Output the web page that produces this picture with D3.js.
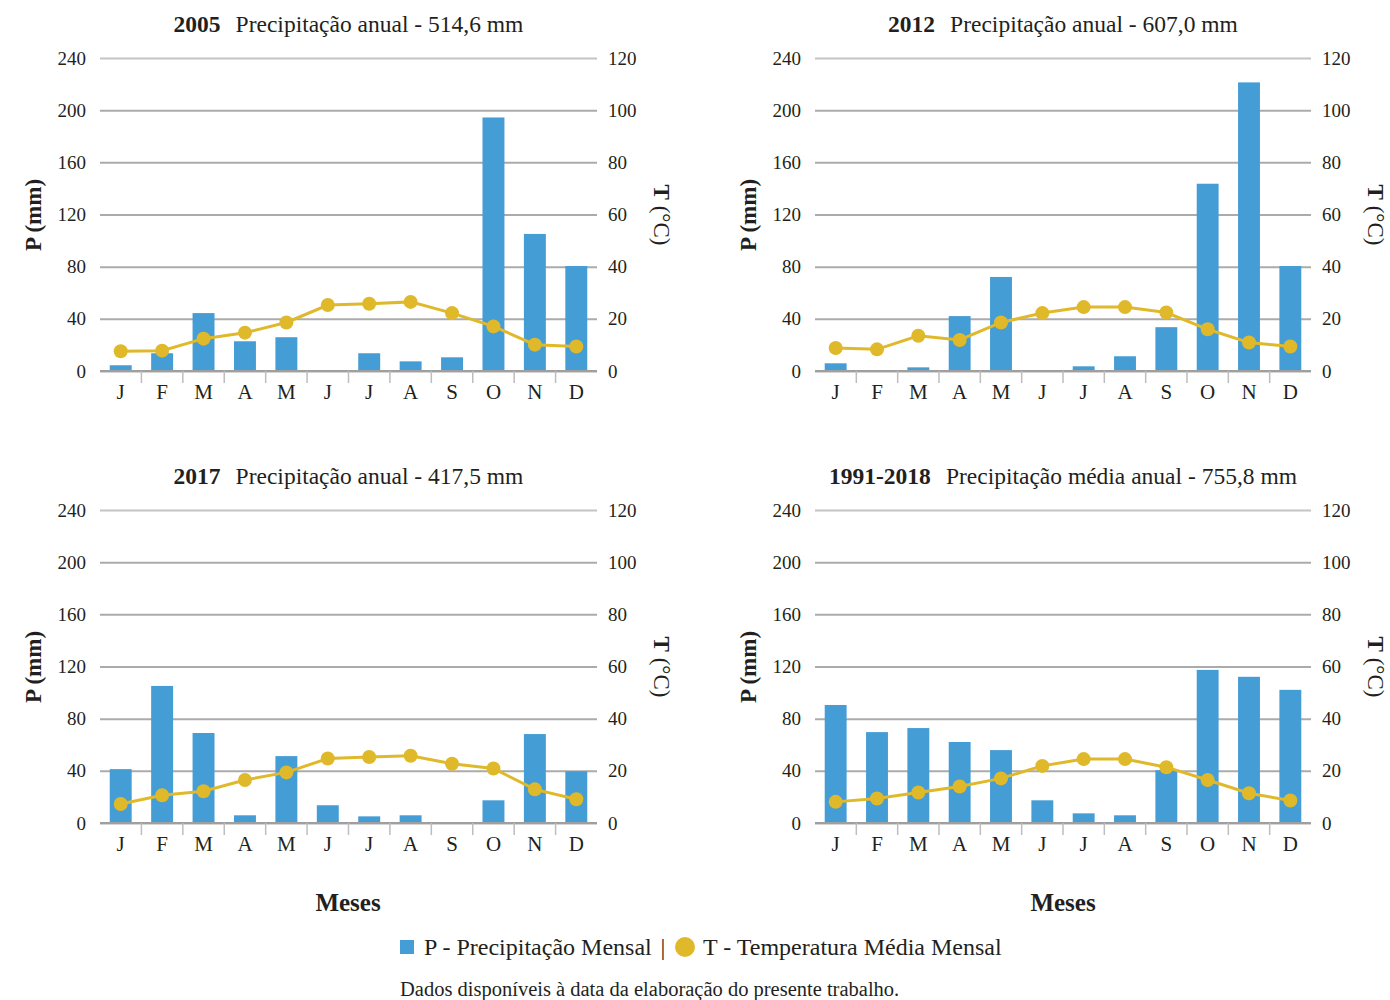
<!DOCTYPE html>
<html>
<head>
<meta charset="utf-8">
<script src="https://cdn.jsdelivr.net/npm/d3@7"></script>
<style>
  html, body { margin: 0; padding: 0; background: #ffffff; }
  svg { display: block; font-family: "Liberation Serif", "DejaVu Serif", serif; }
</style>
</head>
<body>
<svg id="chart" width="1390" height="1000"></svg>
<script>
// Months (x categories)
const months = ["J", "F", "M", "A", "M", "J", "J", "A", "S", "O", "N", "D"];

// Monthly precipitation (mm) and mean monthly temperature (°C)
const precip2005 = [4.4, 13.6, 44.4, 22.8, 25.9, 0, 13.6, 7.4, 10.5, 194.4, 105.1, 80.5];
const temp2005   = [7.6, 7.8, 12.4, 14.7, 18.6, 25.3, 25.8, 26.5, 22.2, 17.1, 10.1, 9.4];

const precip2012 = [5.9, 0, 2.8, 42.1, 72.1, 0, 3.6, 11.3, 33.6, 143.6, 221.3, 80.5];
const temp2012   = [8.8, 8.3, 13.5, 11.9, 18.6, 22.2, 24.5, 24.5, 22.4, 16.0, 10.9, 9.4];

const precip2017 = [41.3, 105.1, 69.0, 5.9, 51.3, 13.6, 5.1, 5.9, 0, 17.4, 68.2, 39.7];
const temp2017   = [7.3, 10.6, 12.2, 16.5, 19.4, 24.7, 25.3, 25.8, 22.7, 20.9, 12.9, 9.1];

const precipMean = [90.5, 69.7, 72.8, 62.1, 55.9, 17.4, 7.4, 5.9, 40.5, 117.4, 112.1, 102.1];
const tempMean   = [8.1, 9.4, 11.7, 14.0, 17.1, 21.9, 24.5, 24.5, 21.4, 16.5, 11.4, 8.6];

// Panel titles
const titleYears = ["2005", "2012", "2017", "1991-2018"];
const titleTexts = [
  "Precipitação anual - 514,6 mm",
  "Precipitação anual - 607,0 mm",
  "Precipitação anual - 417,5 mm",
  "Precipitação média anual - 755,8 mm"
];

// Axis ticks
const precipTicks = [0, 40, 80, 120, 160, 200, 240];
const tempTicks = [0, 20, 40, 60, 80, 100, 120];

const BAR = "#459dd5";
const LINE = "#e0b92b";
const TEXT = "#231f20";
const GRID = "#ababab";

const panels = [
  { precip: precip2005, temp: temp2005, x0: 100, x1: 597, y0: 371 },
  { precip: precip2012, temp: temp2012, x0: 815, x1: 1311, y0: 371 },
  { precip: precip2017, temp: temp2017, x0: 100, x1: 597, y0: 823 },
  { precip: precipMean, temp: tempMean, x0: 815, x1: 1311, y0: 823 }
];

const svg = d3.select("#chart");

panels.forEach((p, i) => {
  const g = svg.append("g");
  const plotH = 313;

  const x = d3.scaleBand().domain(d3.range(12)).range([p.x0, p.x1])
    .paddingInner(0.47).paddingOuter(0.235);
  const yP = d3.scaleLinear().domain([0, 240]).range([p.y0, p.y0 - plotH]);
  const yT = d3.scaleLinear().domain([0, 120]).range([p.y0, p.y0 - plotH]);

  // Horizontal gridlines
  g.append("g")
    .attr("transform", `translate(${p.x0},0)`)
    .call(d3.axisLeft(yP).tickValues(precipTicks).tickSize(-(p.x1 - p.x0)).tickFormat(""))
    .call(a => a.select(".domain").remove())
    .call(a => a.selectAll(".tick line")
      .attr("stroke", d => d === 240 ? "#c4c4c4" : GRID)
      .attr("stroke-width", 2));

  // Bars
  g.append("g").selectAll("rect").data(p.precip).join("rect")
    .attr("x", (d, k) => x(k))
    .attr("width", x.bandwidth())
    .attr("y", d => yP(d))
    .attr("height", d => p.y0 - yP(d))
    .attr("fill", BAR);

  // Baseline and category separators
  g.append("line")
    .attr("x1", p.x0).attr("x2", p.x1).attr("y1", p.y0).attr("y2", p.y0)
    .attr("stroke", "#9f9f9f").attr("stroke-width", 2);
  const step = x.step();
  g.append("g").selectAll("line").data(d3.range(1, 12)).join("line")
    .attr("x1", k => p.x0 + k * step).attr("x2", k => p.x0 + k * step)
    .attr("y1", p.y0).attr("y2", p.y0 + 12)
    .attr("stroke", "#bdbdbd").attr("stroke-width", 1.5);

  // Left axis labels
  g.append("g")
    .attr("transform", `translate(${p.x0 - 14},0)`)
    .call(d3.axisLeft(yP).tickValues(precipTicks).tickSize(0).tickPadding(0))
    .call(a => a.select(".domain").remove())
    .call(a => a.selectAll("text")
      .attr("font-family", "Liberation Serif").attr("font-size", 19).attr("fill", TEXT));

  // Right axis labels
  g.append("g")
    .attr("transform", `translate(${p.x1 + 11},0)`)
    .call(d3.axisRight(yT).tickValues(tempTicks).tickSize(0).tickPadding(0))
    .call(a => a.select(".domain").remove())
    .call(a => a.selectAll("text")
      .attr("font-family", "Liberation Serif").attr("font-size", 19).attr("fill", TEXT));

  // Month labels
  g.append("g")
    .attr("transform", `translate(0,${p.y0 + 8})`)
    .call(d3.axisBottom(x).tickSize(0).tickPadding(0).tickFormat(k => months[k]))
    .call(a => a.select(".domain").remove())
    .call(a => a.selectAll("text")
      .attr("dy", "0.95em")
      .attr("font-family", "Liberation Serif").attr("font-size", 21).attr("fill", TEXT));

  // Temperature line and markers
  const cx = k => x(k) + x.bandwidth() / 2;
  g.append("path")
    .datum(p.temp)
    .attr("fill", "none").attr("stroke", LINE).attr("stroke-width", 3)
    .attr("d", d3.line().x((d, k) => cx(k)).y(d => yT(d)));
  g.append("g").selectAll("circle").data(p.temp).join("circle")
    .attr("cx", (d, k) => cx(k)).attr("cy", d => yT(d)).attr("r", 7)
    .attr("fill", LINE);

  // Title
  const mid = (p.x0 + p.x1) / 2;
  const title = g.append("text")
    .attr("x", mid).attr("y", p.y0 - 339)
    .attr("text-anchor", "middle").attr("fill", TEXT).attr("font-size", 23.5);
  title.append("tspan").attr("font-weight", "bold").text(titleYears[i]);
  title.append("tspan").attr("dx", 15).text(titleTexts[i]);

  // Axis titles
  const midY = p.y0 - 156;
  g.append("text")
    .attr("transform", `translate(${p.x0 - 59},${midY}) rotate(-90)`)
    .attr("text-anchor", "middle").attr("font-size", 23).attr("font-weight", "bold")
    .attr("fill", TEXT).text("P (mm)");
  const tt = g.append("text")
    .attr("transform", `translate(${p.x1 + 57},${midY}) rotate(90)`)
    .attr("text-anchor", "middle").attr("font-size", 23).attr("fill", TEXT);
  tt.append("tspan").attr("font-weight", "bold").text("T");
  tt.append("tspan").text(" (°C)");
});

// X axis titles
svg.selectAll("text.meses").data([348, 1063]).join("text")
  .attr("class", "meses")
  .attr("x", d => d).attr("y", 911)
  .attr("text-anchor", "middle").attr("font-size", 25).attr("font-weight", "bold")
  .attr("fill", TEXT).text("Meses");

// Legend
const legend = svg.append("g");
legend.append("rect").attr("x", 400).attr("y", 940).attr("width", 14).attr("height", 14).attr("fill", BAR);
legend.append("text").attr("x", 424).attr("y", 955).attr("font-size", 24).attr("fill", TEXT)
  .text("P - Precipitação Mensal");
legend.append("text").attr("x", 663).attr("y", 955).attr("font-size", 24).attr("text-anchor", "middle")
  .attr("fill", TEXT).text("|");
legend.append("circle").attr("cx", 685).attr("cy", 947).attr("r", 10).attr("fill", LINE);
legend.append("text").attr("x", 703).attr("y", 955).attr("font-size", 24).attr("fill", TEXT)
  .text("T - Temperatura Média Mensal");

// Footnote
svg.append("text").attr("x", 400).attr("y", 996).attr("font-size", 20.5).attr("fill", TEXT)
  .text("Dados disponíveis à data da elaboração do presente trabalho.");
</script>
</body>
</html>
